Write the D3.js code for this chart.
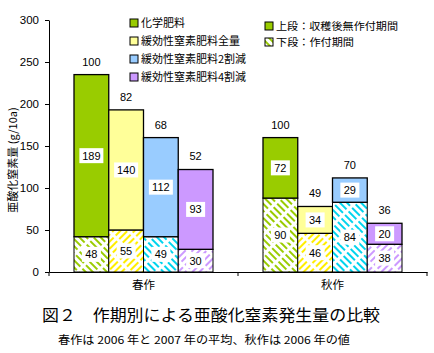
<!DOCTYPE html>
<html lang="ja">
<head>
  <meta charset="UTF-8">
  <title>作期別による亜酸化窒素発生量の比較</title>
  <script src="https://d3js.org/d3.v7.min.js"></script>
  <style>
    body { margin: 0; background: white; }
    svg { display: block; }
    text { font-family: "Noto Sans CJK JP", "Liberation Sans", Arial, sans-serif; }
    .num { font-family: "Liberation Sans", Arial, sans-serif; font-size: 11px; }
  </style>
</head>
<body>
<svg width="434" height="353"></svg>
<script>
  // categories and series
  const categories = ["春作", "秋作"];
  const series = ["化学肥料", "緩効性窒素肥料全量", "緩効性窒素肥料2割減", "緩効性窒素肥料4割減"];

  // drawn segment heights (g/10a)
  const springLower = [42, 50, 42, 27];
  const springUpper = [193, 143, 118, 95];
  const autumnLower = [88, 46, 83, 33];
  const autumnUpper = [72, 32, 29, 25];

  // printed labels
  const springLowerLabels = [48, 55, 49, 30];
  const springUpperLabels = [189, 140, 112, 93];
  const springIndex = [100, 82, 68, 52];
  const autumnLowerLabels = [90, 46, 84, 38];
  const autumnUpperLabels = [72, 34, 29, 20];
  const autumnIndex = [100, 49, 70, 36];

  const yTicks = [0, 50, 100, 150, 200, 250, 300];

  const upperColors = ["#99cc00", "#ffff99", "#99ccff", "#cc99ff"];
  const hatchColors = ["#99cc00", "#ffee00", "#00d4ee", "#cc99ff"];
  const hatchDir = [-45, 45, -45, 45];

  const svg = d3.select("svg");

  const x0 = d3.scaleBand().domain(categories).range([49, 427]);
  const groupW = 139;
  const x1 = d3.scaleBand().domain(series).range([0, groupW]);
  const y = d3.scaleLinear().domain([0, 300]).range([272, 20]);

  // hatch patterns
  const defs = svg.append("defs");
  series.forEach((s, i) => {
    const p = defs.append("pattern")
      .attr("id", "hatch" + i)
      .attr("patternUnits", "userSpaceOnUse")
      .attr("width", 5).attr("height", 14)
      .attr("patternTransform", `rotate(${hatchDir[i]})`);
    p.append("rect").attr("width", 5).attr("height", 14).attr("fill", "white");
    p.append("rect").attr("x", 0).attr("y", 0).attr("width", 2).attr("height", 11)
      .attr("fill", hatchColors[i]);
  });

  const rows = [
    { cat: "春作", lower: springLower, upper: springUpper, lowL: springLowerLabels, upL: springUpperLabels, idx: springIndex },
    { cat: "秋作", lower: autumnLower, upper: autumnUpper, lowL: autumnLowerLabels, upL: autumnUpperLabels, idx: autumnIndex }
  ];

  // axes
  const yAxis = svg.append("g")
    .attr("transform", "translate(49,0)")
    .call(d3.axisLeft(y).tickValues(yTicks).tickSize(4).tickPadding(6).tickSizeOuter(0));
  yAxis.selectAll("text").attr("class", "num").style("font-size", "11.5px").attr("fill", "#000");
  yAxis.selectAll("line, path").attr("stroke", "#000");

  const xAxis = svg.append("g")
    .attr("transform", "translate(0,272)")
    .call(d3.axisBottom(x0).tickSize(0).tickPadding(9).tickSizeOuter(0));
  xAxis.select("path").attr("stroke", "#000");
  xAxis.selectAll("text").style("font-size", "11.5px").attr("fill", "#000")
    .style("font-family", "'Noto Sans CJK JP', sans-serif");
  const bounds = [x0.range()[0]].concat(categories.map(c => x0(c) + x0.bandwidth()));
  xAxis.selectAll(".btick").data(bounds).enter().append("line")
    .attr("x1", d => d).attr("x2", d => d).attr("y1", 0).attr("y2", 4)
    .attr("stroke", "#000");

  // bars
  rows.forEach(r => {
    const gx = x0(r.cat) + (x0.bandwidth() - groupW) / 2;
    const g = svg.append("g").attr("transform", `translate(${gx},0)`);
    series.forEach((s, i) => {
      const bx = x1(s), bw = x1.bandwidth();
      const lo = r.lower[i], tot = r.lower[i] + r.upper[i];
      g.append("rect")
        .attr("x", bx).attr("width", bw)
        .attr("y", y(lo)).attr("height", y(0) - y(lo))
        .attr("fill", `url(#hatch${i})`).attr("stroke", "#000").attr("stroke-width", 1);
      g.append("rect")
        .attr("x", bx).attr("width", bw)
        .attr("y", y(tot)).attr("height", y(lo) - y(tot))
        .attr("fill", upperColors[i]).attr("stroke", "#000").attr("stroke-width", 1.3);

      const boxLabel = (val, cy) => {
        const w = String(val).length > 2 ? 24 : 19;
        g.append("rect").attr("x", bx + bw / 2 - w / 2).attr("y", cy - 7.5)
          .attr("width", w).attr("height", 15).attr("fill", "white");
        g.append("text").attr("class", "num")
          .attr("x", bx + bw / 2).attr("y", cy).attr("dy", "0.36em")
          .attr("text-anchor", "middle").text(val);
      };
      boxLabel(r.upL[i], (y(lo) + y(tot)) / 2);
      boxLabel(r.lowL[i], (y(0) + y(lo)) / 2);

      g.append("text").attr("class", "num")
        .attr("x", bx + bw / 2).attr("y", y(tot) - 13).attr("dy", "0.36em")
        .attr("text-anchor", "middle").text(r.idx[i]);
    });
  });

  // y axis title
  svg.append("text")
    .attr("transform", "translate(13,160) rotate(-90)")
    .attr("text-anchor", "middle").attr("dy", "0.36em")
    .style("font-size", "11px")
    .text("亜酸化窒素量 (g/10a)");

  // legend left
  const leg1 = svg.append("g").attr("transform", "translate(130,0)");
  series.forEach((s, i) => {
    const ly = 23 + i * 18;
    leg1.append("rect").attr("x", 0).attr("y", ly - 4).attr("width", 8).attr("height", 8)
      .attr("fill", upperColors[i]).attr("stroke", "#000");
    leg1.append("text").attr("x", 11).attr("y", ly).attr("dy", "0.36em")
      .style("font-size", "11px").text(s);
  });

  // legend right
  const legendStages = ["上段：収穫後無作付期間", "下段：作付期間"];
  const leg2 = svg.append("g").attr("transform", "translate(265,0)");
  legendStages.forEach((s, i) => {
    const ly = 26 + i * 16;
    leg2.append("rect").attr("x", 0).attr("y", ly - 4).attr("width", 8).attr("height", 8)
      .attr("fill", i === 0 ? upperColors[0] : "url(#hatch0)").attr("stroke", "#000");
    leg2.append("text").attr("x", 11).attr("y", ly).attr("dy", "0.36em")
      .attr("textLength", 122).attr("lengthAdjust", "spacingAndGlyphs")
      .style("font-size", "10.5px").text(s)
      .attr("textLength", i === 0 ? 122 : 78);
  });

  // captions
  svg.append("text").attr("x", 42).attr("y", 315).attr("dy", "0.36em")
    .attr("textLength", 338).attr("lengthAdjust", "spacingAndGlyphs")
    .style("font-size", "16px")
    .text("図２　作期別による亜酸化窒素発生量の比較");
  svg.append("text").attr("x", 58).attr("y", 340).attr("dy", "0.36em")
    .attr("textLength", 292).attr("lengthAdjust", "spacingAndGlyphs")
    .style("font-size", "11px")
    .text("春作は 2006 年と 2007 年の平均、秋作は 2006 年の値");
</script>
</body>
</html>
